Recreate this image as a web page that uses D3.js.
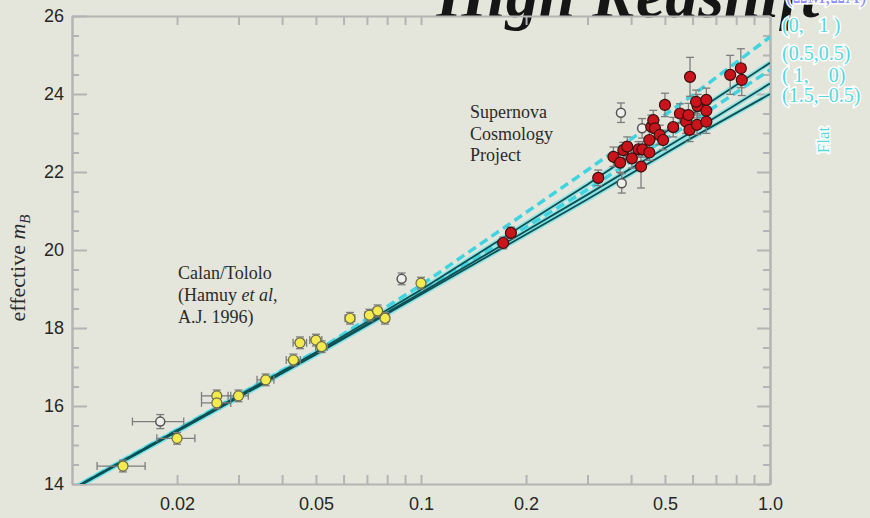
<!DOCTYPE html>
<html>
<head>
<meta charset="utf-8">
<script src="https://cdn.jsdelivr.net/npm/d3@7"></script>
<style>
  body { margin: 0; background: #e5e6db; }
  svg { display: block; }
  .axis path, .axis line { stroke: #b4b4b4; stroke-width: 2; }
  .axis text { fill: #262626; font-family: "Liberation Sans", Arial, sans-serif; font-size: 18px; }
  .note { fill: #2b2b2b; font-family: "Liberation Serif", "Times New Roman", serif; font-size: 18px; }
  .legend { fill: #55d8e0; font-family: "Liberation Serif", serif; font-size: 20px;
            stroke: #ffffff; stroke-width: 3px; paint-order: stroke; }
</style>
</head>
<body>
<div id="chart"></div>
<script>
// low redshift Calan/Tololo supernovae: [z, m, zErr, mErr]
var calanTololo = [
  [0.0140, 14.46, 0.0022, 0.15], [0.0200, 15.17, 0.0025, 0.15], [0.0260, 16.26, 0.0025, 0.15],
  [0.0260, 16.08, 0.0025, 0.15], [0.0300, 16.26, 0.0020, 0.15], [0.0359, 16.67, 0.0020, 0.15],
  [0.0431, 17.18, 0.0020, 0.15], [0.0450, 17.62, 0.0020, 0.15], [0.0500, 17.69, 0.0020, 0.15],
  [0.0519, 17.52, 0.0020, 0.15], [0.0626, 18.25, 0.0020, 0.15], [0.0711, 18.33, 0.0020, 0.15],
  [0.0751, 18.44, 0.0020, 0.15], [0.0789, 18.25, 0.0020, 0.15], [0.1000, 19.15, 0.0020, 0.15]
];

// excluded / open points: [z, m, zErr, mErr]
var openPoints = [
  [0.0179, 15.60, 0.0030, 0.18], [0.0880, 19.26, 0.0000, 0.15],
  [0.374, 23.52, 0, 0.25], [0.376, 21.71, 0, 0.25], [0.430, 23.12, 0, 0.25]
];

// Supernova Cosmology Project: [z, m, mErr]
var scp = [
  [0.172, 20.18, 0.15], [0.181, 20.44, 0.15], [0.322, 21.85, 0.2], [0.356, 22.39, 0.25],
  [0.372, 22.24, 0.25], [0.380, 22.56, 0.2], [0.390, 22.65, 0.25], [0.402, 22.35, 0.25],
  [0.420, 22.58, 0.2], [0.427, 22.14, 0.55], [0.431, 22.58, 0.2], [0.451, 22.50, 0.2],
  [0.451, 22.82, 0.25], [0.457, 23.16, 0.3], [0.463, 23.33, 0.25], [0.468, 23.12, 0.25],
  [0.483, 22.95, 0.25], [0.494, 22.82, 0.25], [0.500, 23.72, 0.3], [0.528, 23.15, 0.25],
  [0.552, 23.50, 0.25], [0.575, 23.29, 0.3], [0.584, 23.46, 0.3], [0.588, 23.08, 0.3],
  [0.590, 24.44, 0.5], [0.618, 23.21, 0.25], [0.620, 23.69, 0.3], [0.614, 23.80, 0.3],
  [0.657, 23.85, 0.3], [0.657, 23.57, 0.3], [0.657, 23.29, 0.3], [0.769, 24.49, 0.5],
  [0.825, 24.66, 0.5], [0.830, 24.36, 0.4]
];

// model curves, read at these redshifts
var curveZ = [0.01, 0.05, 0.1, 0.3, 0.59, 1.0];
var dashedTop = [13.87, 17.40, 19.10, 22.05, 23.92, 25.46];
var solidA    = [13.87, 17.38, 18.98, 21.68, 23.45, 24.80];
var dashedMid = [13.86, 17.36, 18.95, 21.55, 23.25, 24.62];
var solidB    = [13.85, 17.34, 18.90, 21.42, 23.00, 24.27];
var solidC    = [13.85, 17.32, 18.86, 21.30, 22.85, 24.00];

var xLabelTicks = [0.02, 0.05, 0.1, 0.2, 0.5, 1.0];
var xLabels = ["0.02", "0.05", "0.1", "0.2", "0.5", "1.0"];
var xMinorTicks = [0.03, 0.04, 0.06, 0.07, 0.08, 0.09, 0.3, 0.4, 0.6, 0.7, 0.8, 0.9];
var yMajorTicks = [14, 16, 18, 20, 22, 24, 26];
var yMinorTicks = [14.5, 15, 15.5, 16.5, 17, 17.5, 18.5, 19, 19.5, 20.5, 21, 21.5, 22.5, 23, 23.5, 24.5, 25, 25.5];
var legendLabels = ["(0,   1 )", "(0.5,0.5)", "( 1,    0)", "(1.5,\u20130.5)"];

var svgWidth = 870, svgHeight = 518;
var margin = { top: 16, right: 100, bottom: 34, left: 72 };
var width = svgWidth - margin.left - margin.right;
var height = svgHeight - margin.top - margin.bottom;

var svg = d3.select("#chart").append("svg")
  .attr("width", svgWidth)
  .attr("height", svgHeight);

// slide title, cut off by the top edge
svg.append("text")
  .attr("x", 436).attr("y", 17)
  .attr("font-family", "Liberation Serif, serif")
  .attr("font-style", "italic").attr("font-weight", "bold")
  .attr("font-size", 66).attr("fill", "#151515")
  .text("High Redshift");

var chart = svg.append("g")
  .attr("transform", `translate(${margin.left},${margin.top})`);

var x = d3.scaleLog().domain([0.01, 1.0]).range([0, width]);
var y = d3.scaleLinear().domain([14, 26]).range([height, 0]);

// axes, all ticks pointing inward
var allX = xLabelTicks.concat(xMinorTicks);
var fmtX = d => { var i = xLabelTicks.indexOf(d); return i >= 0 ? xLabels[i] : ""; };

chart.append("g").attr("class", "axis")
  .attr("transform", `translate(0,${height})`)
  .call(d3.axisBottom(x).tickValues(allX).tickFormat(fmtX).tickSize(-9).tickSizeOuter(0).tickPadding(13));
chart.append("g").attr("class", "axis")
  .call(d3.axisTop(x).tickValues(allX).tickFormat("").tickSize(-9).tickSizeOuter(0));

chart.append("g").attr("class", "axis")
  .call(d3.axisLeft(y).tickValues(yMajorTicks).tickFormat(d3.format("d")).tickSize(-15).tickSizeOuter(0).tickPadding(8));
chart.append("g").attr("class", "axis")
  .call(d3.axisLeft(y).tickValues(yMinorTicks).tickFormat("").tickSize(-7).tickSizeOuter(0));
chart.append("g").attr("class", "axis")
  .attr("transform", `translate(${width},0)`)
  .call(d3.axisRight(y).tickValues(yMajorTicks).tickFormat("").tickSize(-13).tickSizeOuter(0));
chart.append("g").attr("class", "axis")
  .attr("transform", `translate(${width},0)`)
  .call(d3.axisRight(y).tickValues(yMinorTicks).tickFormat("").tickSize(-7).tickSizeOuter(0));

// model curves
chart.append("clipPath").attr("id", "plotclip")
  .append("rect").attr("width", width).attr("height", height);
var curves = chart.append("g").attr("clip-path", "url(#plotclip)");
var line = d3.line().x(d => x(d[0])).y(d => y(d[1]));
var pairs = arr => curveZ.map((z, i) => [z, arr[i]]);

[solidA, solidB, solidC].forEach(function(c) {
  curves.append("path").datum(pairs(c))
    .attr("fill", "none").attr("stroke", "#6fe3ea").attr("stroke-width", 5).attr("opacity", 0.7)
    .attr("d", line);
});
[dashedTop, dashedMid].forEach(function(c) {
  curves.append("path").datum(pairs(c))
    .attr("fill", "none").attr("stroke", "#3fd4e0").attr("stroke-width", 3.5)
    .attr("stroke-dasharray", "9,5")
    .attr("d", line);
});
[solidA, solidB, solidC].forEach(function(c) {
  curves.append("path").datum(pairs(c))
    .attr("fill", "none").attr("stroke", "#0f4f52").attr("stroke-width", 1.8)
    .attr("d", line);
});

// error bars
var bars = chart.append("g").attr("stroke", "#7d7d7d").attr("stroke-width", 1.3).attr("fill", "none");
function errorBars(data, hasZErr) {
  data.forEach(function(d) {
    var cx = x(d[0]), cy = y(d[1]);
    var mErr = hasZErr ? d[3] : d[2];
    var y0 = y(d[1] - mErr), y1 = y(d[1] + mErr);
    bars.append("line").attr("x1", cx).attr("x2", cx).attr("y1", y0).attr("y2", y1);
    bars.append("line").attr("x1", cx - 4).attr("x2", cx + 4).attr("y1", y0).attr("y2", y0);
    bars.append("line").attr("x1", cx - 4).attr("x2", cx + 4).attr("y1", y1).attr("y2", y1);
    if (hasZErr && d[2] > 0) {
      var xa = x(d[0] - d[2]), xb = x(d[0] + d[2]);
      bars.append("line").attr("x1", xa).attr("x2", xb).attr("y1", cy).attr("y2", cy);
      bars.append("line").attr("x1", xa).attr("x2", xa).attr("y1", cy - 4).attr("y2", cy + 4);
      bars.append("line").attr("x1", xb).attr("x2", xb).attr("y1", cy - 4).attr("y2", cy + 4);
    }
  });
}
errorBars(calanTololo, true);
errorBars(openPoints, true);
errorBars(scp, false);

// points
chart.selectAll(".open").data(openPoints).enter().append("circle")
  .attr("cx", d => x(d[0])).attr("cy", d => y(d[1])).attr("r", 4.5)
  .attr("fill", "#eeeeea").attr("stroke", "#555").attr("stroke-width", 1.5);

chart.selectAll(".yellow").data(calanTololo).enter().append("circle")
  .attr("cx", d => x(d[0])).attr("cy", d => y(d[1])).attr("r", 5)
  .attr("fill", "#f2ea4e").attr("stroke", "#6a6a4a").attr("stroke-width", 1.2);

chart.selectAll(".red").data(scp).enter().append("circle")
  .attr("cx", d => x(d[0])).attr("cy", d => y(d[1])).attr("r", 5.5)
  .attr("fill", "#c8141a").attr("stroke", "#3a1010").attr("stroke-width", 1.2);

// annotations
var scpText = chart.append("text").attr("class", "note").attr("x", 398).attr("y", 102);
["Supernova", "Cosmology", "Project"].forEach(function(t, i) {
  scpText.append("tspan").attr("x", 398).attr("dy", i ? 21.5 : 0).text(t);
});

var ctText = chart.append("text").attr("class", "note").attr("x", 106).attr("y", 263);
ctText.append("tspan").attr("x", 106).text("Calan/Tololo");
ctText.append("tspan").attr("x", 106).attr("dy", 22).text("(Hamuy ");
ctText.append("tspan").attr("font-style", "italic").text("et al");
ctText.append("tspan").text(",");
ctText.append("tspan").attr("x", 106).attr("dy", 22).text("A.J. 1996)");

// y axis title
var yTitle = svg.append("text")
  .attr("transform", "translate(25,268) rotate(-90)")
  .attr("text-anchor", "middle")
  .attr("font-family", "Liberation Serif, serif").attr("font-size", 22).attr("fill", "#2b2b2b");
yTitle.append("tspan").text("effective ");
yTitle.append("tspan").attr("font-style", "italic").text("m");
yTitle.append("tspan").attr("font-style", "italic").attr("font-size", 15).attr("dy", 5).text("B");

// legend
svg.append("text").attr("class", "legend")
  .attr("x", 786).attr("y", 3).style("fill", "#8e8efa").attr("font-size", 16)
  .text("(\u03A9M,\u03A9\u039B)");
legendLabels.forEach(function(t, i) {
  svg.append("text").attr("class", "legend")
    .attr("x", 782).attr("y", [32, 60, 82, 102][i])
    .attr("xml:space", "preserve").style("white-space", "pre")
    .text(t);
});
svg.append("text").attr("class", "legend")
  .attr("transform", "translate(829,140) rotate(-90)")
  .attr("text-anchor", "middle").style("font-size", "17px")
  .text("Flat");
</script>
</body>
</html>
